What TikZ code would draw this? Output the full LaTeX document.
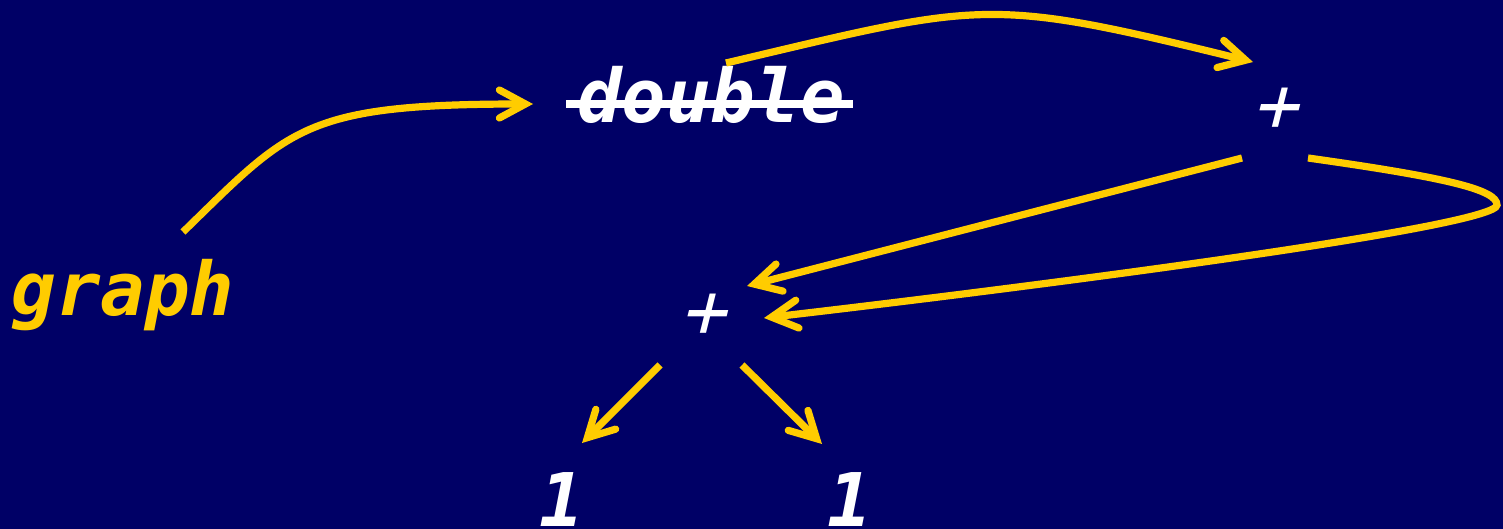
\documentclass[tikz,border=0pt]{standalone}
\usepackage{fontspec}
\setmonofont{DejaVu Sans Mono}
\usetikzlibrary{arrows.meta}
\definecolor{navy}{HTML}{000066}
\definecolor{gold}{HTML}{FFCC00}
\begin{document}
\begin{tikzpicture}[x=0.5pt,y=-0.5pt,
  lbl/.style={inner sep=0pt, anchor=base, font=\fontsize{37}{40}\selectfont\ttfamily\bfseries\itshape},
  op/.style={inner sep=0pt, anchor=base, text=white, xslant=0.25, transform shape, font=\fontsize{38}{40}\selectfont\ttfamily\mdseries\itshape},
  arr/.style={draw=gold, line width=3.6pt, -{Straight Barb[length=13pt,width=14pt,line cap=round,line join=miter]}}]
\fill[navy] (0,0) rectangle (1503,529);
\useasboundingbox (0,0) rectangle (1503,529);
% labels
\node[lbl, text=gold] (graph) at (123,315) {graph};
\node[lbl, text=white] (double) at (711,123) {double};
\node[op] (plusA) at (1274,132) {+};
\node[op] (plusB) at (702,337) {+};
\node[lbl, text=white] (oneL) at (562,526) {1};
\node[lbl, text=white] (oneR) at (850,526) {1};
% strike-through of "double"
\coordinate (sL) at (566,104);
\coordinate (sR) at (853,104);
\draw[white, line width=4pt] (sL) -- (sR);
% connector end points
\coordinate (a1s) at (183,232);  \coordinate (a1e) at (533,104);
\coordinate (a2s) at (726,63);   \coordinate (a2e) at (1253,62);
\coordinate (a3s) at (1242,158); \coordinate (a3e) at (747,286);
\coordinate (a4s) at (1308,158); \coordinate (a4m) at (1497,205); \coordinate (a4e) at (764,318);
\coordinate (a5s) at (660,365);  \coordinate (a5e) at (582,443);
\coordinate (a6s) at (742,365);  \coordinate (a6e) at (822,444);
% connectors
\draw[arr] (a1s) .. controls (290,128) and (303,104) .. (a1e);
\draw[arr] (a2s) .. controls (985,2) and (985,-4) .. (a2e);
\draw[arr] (a3s) -- (a3e);
\draw[arr] (a4s) .. controls (1450,178) and (1497,190) .. (a4m) .. controls (1497,226) and (1065,283) .. (a4e);
\draw[arr] (a5s) -- (a5e);
\draw[arr] (a6s) -- (a6e);
\end{tikzpicture}
\end{document}
